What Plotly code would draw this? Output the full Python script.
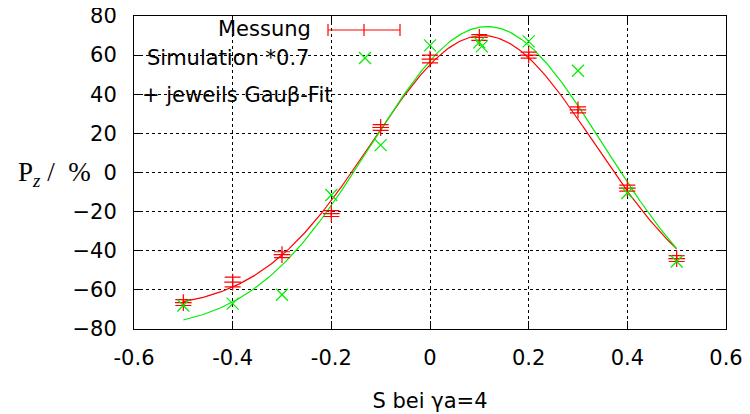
import numpy as np
import plotly.graph_objects as go

# Measurement (red, with error bars)
mess_x = [-0.5, -0.4, -0.3, -0.2, -0.1, 0.0, 0.1, 0.2, 0.3, 0.4, 0.5]
mess_y = [-66.5, -56, -42, -21, 23, 58, 69, 60, 32, -8, -44]
mess_err = [1.5, 2.5, 1.5, 1.5, 1.5, 2, 1.5, 1.5, 1.5, 1.5, 1.5]

# Simulation *0.7 (green crosses)
sim_x = [-0.5, -0.4, -0.3, -0.2, -0.1, 0.0, 0.1, 0.105, 0.2, 0.3, 0.4, 0.5]
sim_y = [-68, -67, -62.5, -11.5, 14, 65, 66.5, 64.5, 67, 52, -10.5, -45.5]

# Gauss fit parameters: offset, amplitude, centre, k = 1/(2 sigma^2)
fit_mess = dict(a=-69.8, b=139.8, c=0.107, k=9.8)
fit_sim = dict(a=-80.7, b=155.3, c=0.116, k=8.9)
fit_range = [-0.5, 0.5]

x_ticks = [-0.6, -0.4, -0.2, 0, 0.2, 0.4, 0.6]
x_ticklabels = ["-0.6", "-0.4", "-0.2", "0", "0.2", "0.4", "0.6"]
y_ticks = [-80, -60, -40, -20, 0, 20, 40, 60, 80]

RED = "#ff0000"
GREEN = "#00ee00"

xf = np.linspace(fit_range[0], fit_range[1], 300)


def gauss(x, p):
    return p["a"] + p["b"] * np.exp(-p["k"] * (x - p["c"]) ** 2)


fig = go.Figure()
fig.add_trace(go.Scatter(x=xf, y=gauss(xf, fit_mess), mode="lines",
                         line=dict(color=RED, width=1.2), showlegend=False))
fig.add_trace(go.Scatter(x=xf, y=gauss(xf, fit_sim), mode="lines",
                         line=dict(color=GREEN, width=1.2), showlegend=False))
fig.add_trace(go.Scatter(x=mess_x, y=mess_y, mode="markers",
                         marker=dict(symbol="cross-thin", size=12, color=RED,
                                     line=dict(color=RED, width=1.2)),
                         error_y=dict(type="data", array=mess_err, color=RED,
                                      thickness=1.2, width=8),
                         showlegend=False))
fig.add_trace(go.Scatter(x=sim_x, y=sim_y, mode="markers",
                         marker=dict(symbol="x-thin", size=12, color=GREEN,
                                     line=dict(color=GREEN, width=1.2)),
                         showlegend=False))

# page offset of the plot div (browser default body margin)
OFF = 8
W, H = 750 - OFF, 414 - OFF
# plot area in page pixels
PL, PR, PT, PB = 134, 726, 16, 329
L, R, T, B = PL - OFF, (OFF + W) - PR, PT - OFF, (OFF + H) - PB
pw, ph = PR - PL, PB - PT


def px(x):
    return (x - PL) / pw


def py(y):
    return (PB - y) / ph


FS = 21
font = dict(family="DejaVu Sans", size=FS, color="black")
annotations = [
    dict(x=px(313), y=py(29), xref="paper", yref="paper", text="Messung",
         showarrow=False, xanchor="right", yanchor="middle", font=font),
    dict(x=px(311), y=py(58), xref="paper", yref="paper", text="Simulation *0.7",
         showarrow=False, xanchor="right", yanchor="middle", font=font),
    dict(x=px(140), y=py(95), xref="paper", yref="paper", text="+ jeweils Gauβ-Fit",
         showarrow=False, xanchor="left", yanchor="middle", font=font),
    dict(x=px(54), y=py(174), xref="paper", yref="paper",
         text="P<sub><i>z</i></sub> /  %",
         showarrow=False, xanchor="center", yanchor="middle",
         font=dict(family="Liberation Serif", size=27, color="black")),
]

shapes = [
    dict(type="line", xref="paper", yref="paper", x0=px(328), x1=px(400),
         y0=py(30), y1=py(30), line=dict(color=RED, width=1.2)),
]
for sx in (328, 364, 400):
    shapes.append(dict(type="line", xref="paper", yref="paper", x0=px(sx), x1=px(sx),
                       y0=py(24), y1=py(36), line=dict(color=RED, width=1.2)))
# green cross legend sample
for d in (1, -1):
    shapes.append(dict(type="line", xref="paper", yref="paper",
                       x0=px(359), x1=px(371), y0=py(58 - 6 * d), y1=py(58 + 6 * d),
                       line=dict(color=GREEN, width=1.2)))

axis_common = dict(showline=True, linecolor="black", linewidth=1, mirror="ticks",
                   ticks="inside", ticklen=8, tickcolor="black", tickwidth=1,
                   showgrid=True, gridcolor="black", gridwidth=1, griddash="dot",
                   zeroline=False, tickfont=font, ticklabeloverflow="allow")

fig.update_layout(
    width=W, height=H,
    margin=dict(l=L, r=R, t=T, b=B, autoexpand=False),
    paper_bgcolor="white", plot_bgcolor="white",
    xaxis=dict(range=[-0.6, 0.6], tickvals=x_ticks, ticktext=x_ticklabels,
               ticklabelstandoff=10,
               title=dict(text="S bei γa=4", font=dict(family="DejaVu Sans", size=FS, color="black"),
                          standoff=24),
               **axis_common),
    yaxis=dict(range=[-80, 80], tickvals=y_ticks, ticklabelstandoff=12,
               **axis_common),
    annotations=annotations,
    shapes=shapes,
)

fig.write_html("out.html")
